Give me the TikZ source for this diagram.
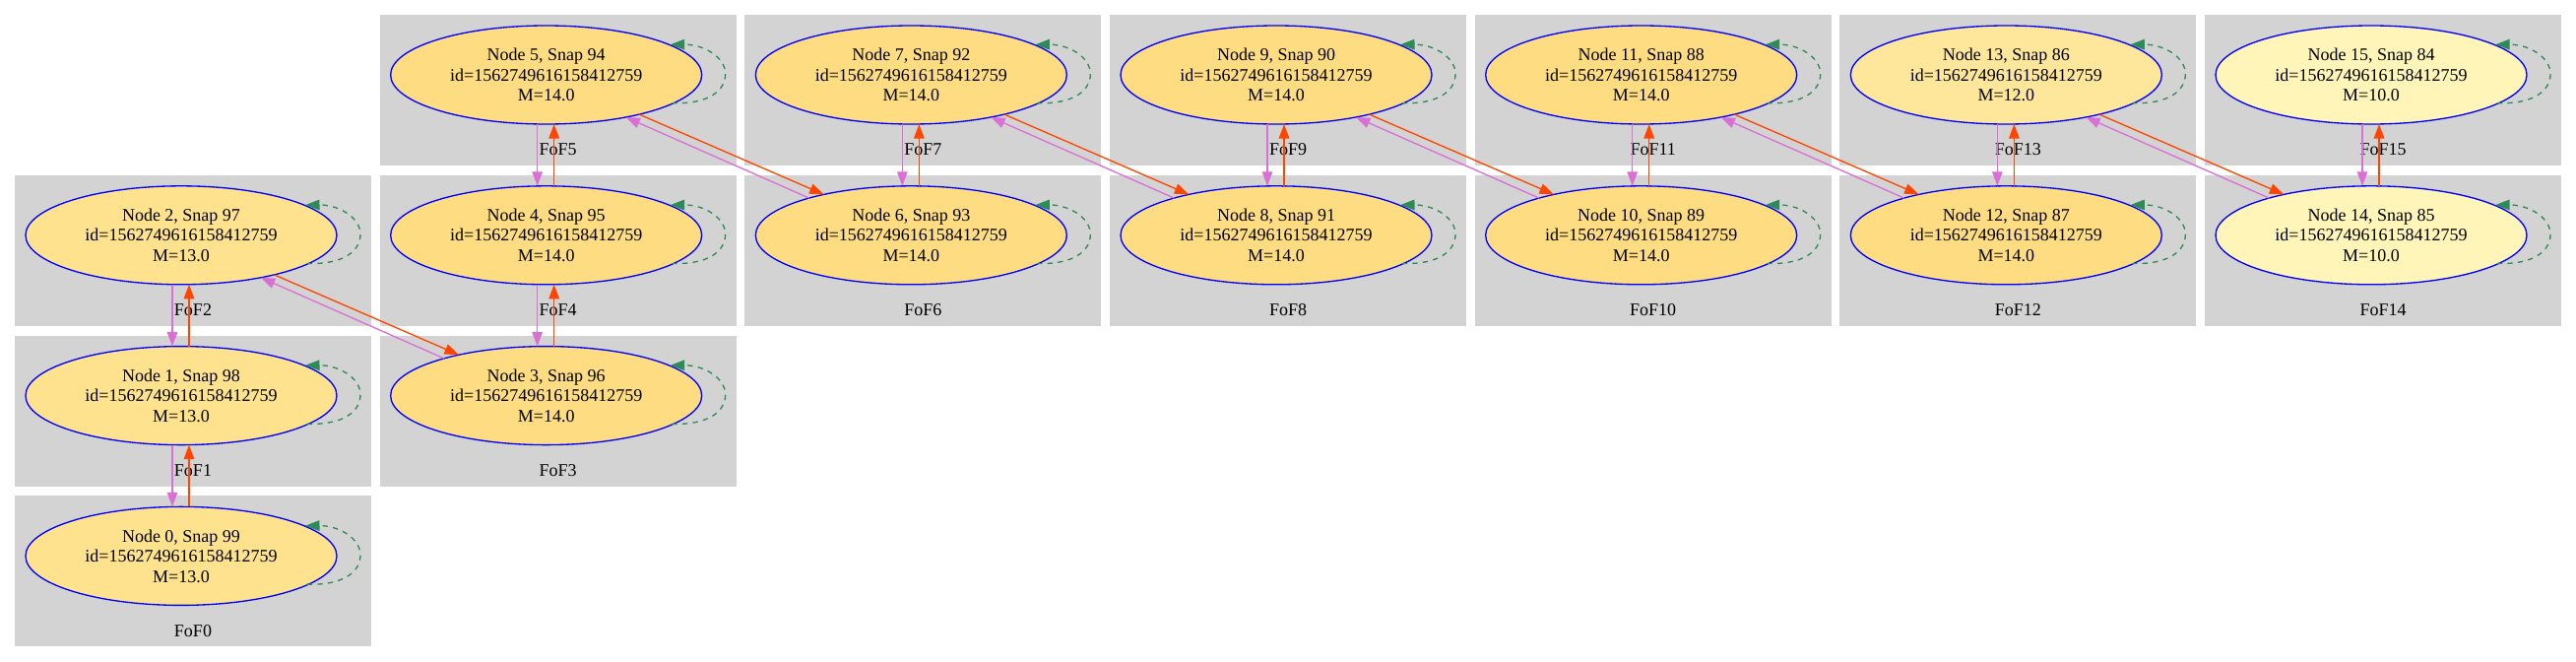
\documentclass[tikz,border=0pt]{standalone}
\usepackage{fontspec}
\setmainfont{Liberation Serif}
\usetikzlibrary{arrows.meta,shapes.geometric}
\definecolor{gvgrey}{HTML}{D3D3D3}
\definecolor{gvblue}{HTML}{0000FF}
\definecolor{gvorchid}{HTML}{DA70D6}
\definecolor{gvorange}{HTML}{FF4500}
\definecolor{gvgreen}{HTML}{2E8B57}
\definecolor{fillA}{HTML}{FEE28E}
\definecolor{fillB}{HTML}{FEDC82}
\definecolor{fillC}{HTML}{FEE79A}
\definecolor{fillD}{HTML}{FFF5B8}
\tikzset{
  clusterbox/.style={fill=gvgrey},
  clusterlabel/.style={inner sep=0pt, font=\fontsize{18}{20.5}\selectfont},
  halo/.style={ellipse, draw=gvblue, line width=1.33pt, minimum width=316pt, minimum height=100pt,
    inner sep=0pt, outer sep=0pt, align=center, font=\fontsize{18}{20.5}\selectfont},
  gvtip/.style={-{Triangle[length=14.5pt,width=10.5pt]}},
  upedge/.style={gvtip, draw=gvorange, line width=1.33pt},
  downedge/.style={gvtip, draw=gvorchid, line width=1.33pt},
  loopedge/.style={gvtip, draw=gvgreen, line width=1.33pt, dash pattern=on 5.3pt off 5.3pt},
}
\begin{document}
\begin{tikzpicture}[x=1pt,y=-1pt]
\useasboundingbox (0,0) rectangle (2616,672);
\foreach \n/\c/\r/\m/\f in {0/0/3/13.0/fillA, 1/0/2/13.0/fillA, 2/0/1/13.0/fillA,
  3/1/2/14.0/fillB, 4/1/1/14.0/fillB, 5/1/0/14.0/fillB, 6/2/1/14.0/fillB, 7/2/0/14.0/fillB,
  8/3/1/14.0/fillB, 9/3/0/14.0/fillB, 10/4/1/14.0/fillB, 11/4/0/14.0/fillB,
  12/5/1/14.0/fillB, 13/5/0/12.0/fillC, 14/6/1/10.0/fillD, 15/6/0/10.0/fillD} {
  \pgfmathsetmacro\L{15+370.67*\c}
  \pgfmathsetmacro\T{15+162.8*\r}
  \pgfmathtruncatemacro\snap{99-\n}
  \fill[clusterbox] (\L,\T) rectangle ++(362,153);
  \node[clusterlabel] (lab\n) at (\L+181,\T+137) {FoF\n};
  \node[halo, fill=\f] (n\n) at (\L+169,\T+61) {Node \n, Snap \snap\\id=1562749616158412759\\M=\m};
}
% vertical pairs (lower index below, higher index above)
\foreach \a/\b in {0/1, 1/2, 3/4, 4/5, 6/7, 8/9, 10/11, 12/13, 14/15} {
  \draw[upedge] ([xshift=8pt]n\a.north) -- ([xshift=8pt]n\b.south);
  \draw[downedge] ([xshift=-9pt]n\b.south) -- ([xshift=-9pt]n\a.north);
}
% diagonal pairs
\foreach \a/\b in {2/3, 5/6, 7/8, 9/10, 11/12, 13/14} {
  \draw[upedge] (n\a.-23.05) -- (n\b.155.65);
  \draw[downedge] (n\b.160.2) -- (n\a.-28);
}
% self loops
\foreach \n in {0,...,15} {
  \draw[loopedge] ([shift={(127.7,28.7)}]n\n.center)
    .. controls ([shift={(165,30)}]n\n.center) and ([shift={(182,16)}]n\n.center) .. ([shift={(182,-1)}]n\n.center)
    .. controls ([shift={(182,-18)}]n\n.center) and ([shift={(160,-31)}]n\n.center) .. ([shift={(126,-30.7)}]n\n.center);
}
\end{tikzpicture}
\end{document}
